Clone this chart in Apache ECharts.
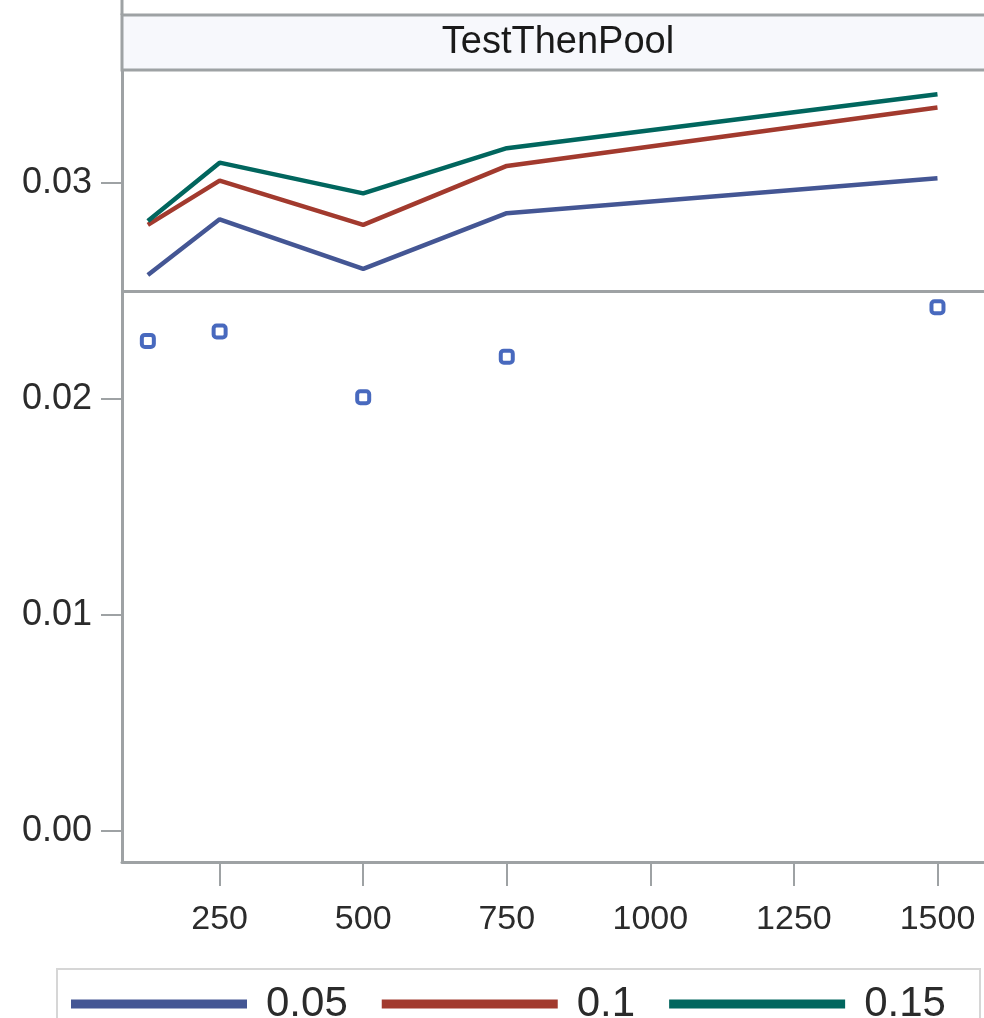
<!DOCTYPE html>
<html>
<head>
<meta charset="utf-8">
<script src="https://cdn.jsdelivr.net/npm/echarts@6/dist/echarts.min.js"></script>
<style>
html,body{margin:0;padding:0;background:#fff;}
#chart{width:984px;height:1018px;}
</style>
</head>
<body>
<div id="chart"></div>
<script>
// ---- data ----
const panelTitle = 'TestThenPool';
const xValues = [125, 250, 500, 750, 1500];
const seriesNames = ['0.05', '0.1', '0.15'];
const line005 = [0.02574, 0.02832, 0.02602, 0.02860, 0.03022];
const line01  = [0.02806, 0.03011, 0.02806, 0.03079, 0.03349];
const line015 = [0.02824, 0.03094, 0.02952, 0.03161, 0.03411];
const observed = [0.02269, 0.02312, 0.02008, 0.02196, 0.02425];
const xTicks = [250, 500, 750, 1000, 1250, 1500];
const yTicks = [0, 0.01, 0.02, 0.03];
const referenceValue = 0.025;

const lineColors = ['#445694', '#A23A2E', '#01665E'];
const markerColor = '#1A44AE';
const axisGray = '#9ea2a4';
const FONT = 'Liberation Sans, Arial, sans-serif';

function pairs(ys){ return xValues.map((x,i)=>[x, ys[i]]); }

const chart = echarts.init(document.getElementById('chart'), null, {renderer:'canvas'});
const lineSets = [line005, line01, line015];

const series = lineSets.map((ys, i) => ({
  name: seriesNames[i],
  type: 'line',
  data: pairs(ys),
  symbol: 'none',
  lineStyle: {color: lineColors[i], width: 4.5},
  itemStyle: {color: lineColors[i]},
  z: 3 + i,
  animation: false
}));
series[0].markLine = {
  silent: true,
  precision: 6,
  symbol: ['none','none'],
  label: {show:false},
  lineStyle: {color: axisGray, width: 3, type: 'solid'},
  data: [{yAxis: referenceValue}],
  animation: false
};
series.push({
  name: 'observed',
  type: 'scatter',
  data: pairs(observed),
  symbol: 'roundRect',
  symbolSize: 12,
  itemStyle: {color: '#ffffff', borderColor: markerColor, borderWidth: 4},
  z: 6,
  animation: false
});

chart.setOption({
  animation: false,
  backgroundColor: '#ffffff',
  grid: {left: 122, right: 0, top: 70, bottom: 156, containLabel: false},
  xAxis: {
    type: 'value',
    min: 80, max: 1581,
    axisLine: {show: true, onZero: false, lineStyle: {color: axisGray, width: 3}},
    axisTick: {show: true, length: 24, customValues: xTicks, lineStyle: {color: axisGray, width: 2}},
    axisLabel: {show: true, customValues: xTicks, margin: 41, color: '#2b2b2b', fontSize: 34, fontFamily: FONT,
      formatter: v => String(v)},
    splitLine: {show: false}
  },
  yAxis: {
    type: 'value',
    min: -0.001435, max: 0.03523,
    axisLine: {show: true, onZero: false, lineStyle: {color: axisGray, width: 3}},
    axisTick: {show: true, length: 21, customValues: yTicks, lineStyle: {color: axisGray, width: 2}},
    axisLabel: {show: true, customValues: yTicks, margin: 30, color: '#2b2b2b', fontSize: 36, fontFamily: FONT,
      formatter: v => v.toFixed(2)},
    splitLine: {show: false}
  },
  legend: {
    data: seriesNames,
    left: 66, top: 978,
    itemGap: 34,
    itemWidth: 176, itemHeight: 9,
    icon: 'rect',
    textStyle: {fontSize: 42, color: '#2b2b2b', fontFamily: FONT, padding: [0,0,0,14]},
    selectedMode: false
  },
  graphic: [
    {type: 'line', shape: {x1: 122, y1: 0, x2: 122, y2: 15}, style: {stroke: axisGray, lineWidth: 3}, z: 10},
    {type: 'rect', shape: {x: 122, y: 15, width: 866, height: 55}, style: {fill: '#f7f8fc', stroke: axisGray, lineWidth: 3}, z: 10},
    {type: 'text', x: 558, y: 43, style: {text: panelTitle, fill: '#1a1a1a', font: '38px ' + FONT, align: 'center', verticalAlign: 'middle'}, z: 11},
    {type: 'rect', shape: {x: 57, y: 969, width: 923, height: 70}, style: {fill: 'none', stroke: '#d6d6d6', lineWidth: 2}, z: 1}
  ],
  series: series
});
</script>
</body>
</html>
